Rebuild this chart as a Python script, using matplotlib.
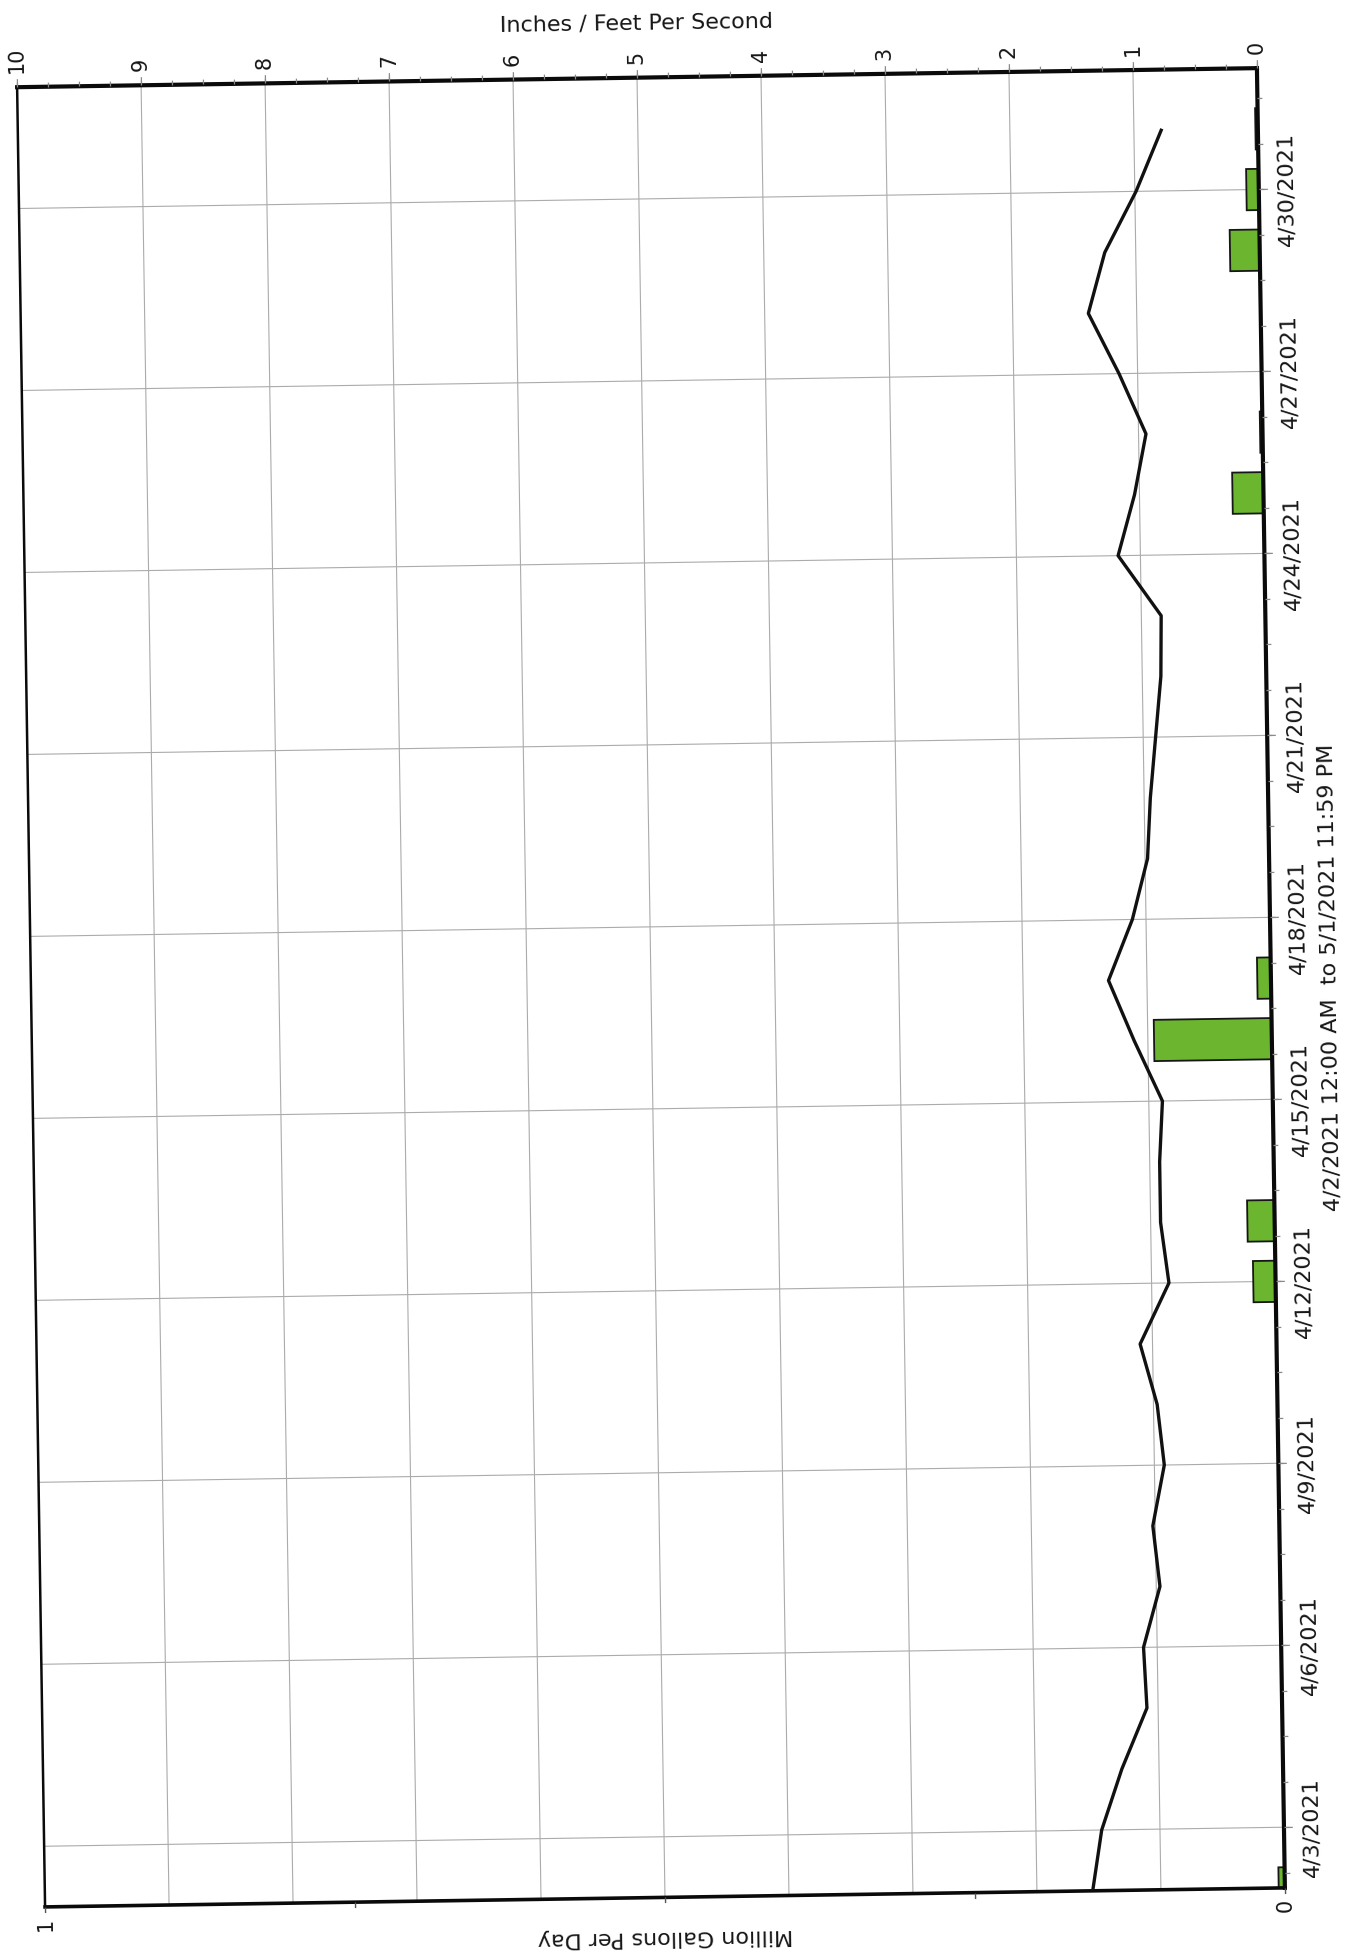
import numpy as np
import pandas as pd
import matplotlib
matplotlib.use("Agg")
import matplotlib.pyplot as plt
from matplotlib.transforms import Affine2D
import mpl_toolkits.axisartist.floating_axes as floating_axes
from mpl_toolkits.axisartist.grid_finder import FixedLocator, DictFormatter

plt.rcParams["font.family"] = ["DejaVu Sans"]

# ---------------------------------------------------------------- data
period_start = pd.Timestamp("2021-04-02 00:00")
period_days = 30
period_text = "4/2/2021 12:00 AM  to 5/1/2021 11:59 PM"

# daily average flow (MGD)
flow_dates = pd.date_range("2021-04-02", "2021-05-01", freq="D")
flow_mgd = [0.155, 0.147, 0.130, 0.109, 0.111, 0.097, 0.102, 0.092, 0.097, 0.110,
            0.086, 0.092, 0.092, 0.089, 0.111, 0.131, 0.111, 0.098, 0.095, 0.090,
            0.085, 0.084, 0.118, 0.104, 0.094, 0.115, 0.139, 0.125, 0.099, 0.078]

# daily rainfall (inches)
rain_dates = pd.to_datetime(["2021-04-02", "2021-04-12", "2021-04-13", "2021-04-16",
                             "2021-04-17", "2021-04-25", "2021-04-26", "2021-04-29",
                             "2021-04-30", "2021-05-01"])
rain_in = [0.05, 0.18, 0.22, 0.95, 0.11, 0.25, 0.02, 0.24, 0.10, 0.02]

# axis ticks
date_ticks = pd.date_range("2021-04-03", "2021-04-30", freq="3D")
date_minor = pd.date_range("2021-04-02 06:00", "2021-05-01 12:00", freq="18h")
in_ticks = list(range(0, 11))
in_minor = np.arange(0, 10.01, 0.25)
mgd_ticks = [0, 0.25, 0.5, 0.75, 1.0]
mgd_labels = {0: "0", 1: "1"}

in_label = "Inches / Feet Per Second"
mgd_label = "Million Gallons Per Day"


def day_offset(t):
    return np.asarray((pd.DatetimeIndex(t) - period_start) / pd.Timedelta(days=1), float)


# ---------------------------------------------------------------- geometry
PX_PER_DAY = 1820 / period_days
PX_PER_INCH = 124.0
TILT = 0.88                       # page sits slightly skewed
RECT = [0.00325, 0.0172, 0.9551, 0.9574]

tr = Affine2D().scale(PX_PER_DAY, PX_PER_INCH).rotate_deg(90 + TILT)
tr_mgd = Affine2D().scale(1, 10) + tr

GRID_C = "#ababab"
TICK_C = "#8a8a8a"
TEXT_C = "#161616"

fig = plt.figure(figsize=(13.54, 19.59), dpi=100)
fig.patch.set_facecolor("white")


def floating(trans, ext, loc1, fmt1, loc2, fmt2):
    gh = floating_axes.GridHelperCurveLinear(
        trans, extremes=ext,
        grid_locator1=FixedLocator(list(loc1)), tick_formatter1=DictFormatter(fmt1),
        grid_locator2=FixedLocator(list(loc2)), tick_formatter2=DictFormatter(fmt2))
    return fig.add_axes(RECT, axes_class=floating_axes.FloatingAxes, grid_helper=gh)


day_major = day_offset(date_ticks)
date_fmt = {d: f"{t.month}/{t.day}/{t.year}" for d, t in zip(day_major, date_ticks)}

# main frame: dates + inches, with grid
ax = floating(tr, (0, period_days, 0, 10), day_major, date_fmt,
              in_ticks, {i: str(i) for i in in_ticks})
ax.grid(True)
ax.gridlines.set_color(GRID_C)
ax.gridlines.set_linewidth(0.8)
ax.gridlines.set_zorder(0.95)

for name, lw in [("bottom", 3.0), ("right", 3.0), ("left", 2.6), ("top", 1.8)]:
    a = ax.axis[name]
    a.line.set_linewidth(lw)
    a.line.set_color("#0a0a0a")
    a.major_ticks.set_tick_out(True)
    a.major_ticks.set_ticksize(6)
    a.major_ticks.set_color(TICK_C)
    a.major_ticks.set_markeredgewidth(0.9)

date_axis = ax.axis["bottom"]
date_axis.major_ticklabels.set_fontsize(16)
date_axis.major_ticklabels.set_color(TEXT_C)
date_axis.major_ticklabels.set_pad(7)
date_axis.label.set_text(period_text)
date_axis.label.set_fontsize(16)
date_axis.label.set_color(TEXT_C)
date_axis.label.set_pad(10)

in_axis = ax.axis["right"]
in_axis.toggle(ticklabels=True, label=True)
in_axis.major_ticklabels.set_fontsize(15)
in_axis.major_ticklabels.set_color(TEXT_C)
in_axis.major_ticklabels.set_pad(4)
in_axis.label.set_text(in_label)
in_axis.label.set_fontsize(16)
in_axis.label.set_color(TEXT_C)
in_axis.label.set_rotation(180)
in_axis.label.set_va("bottom")
in_axis.label.set_pad(3)

ax.axis["left"].toggle(all=False)
ax.axis["top"].toggle(all=False)

# flow scale along the lower frame edge
ax_mgd = floating(tr_mgd, (0, period_days, 0, 1), day_major, {}, mgd_ticks, mgd_labels)
ax_mgd.patch.set_visible(False)
for name in ["bottom", "right", "top"]:
    ax_mgd.axis[name].set_visible(False)
mgd_axis = ax_mgd.axis["left"]
mgd_axis.line.set_visible(False)
mgd_axis.major_ticks.set_tick_out(True)
mgd_axis.major_ticks.set_ticksize(4)
mgd_axis.major_ticks.set_color("#555555")
mgd_axis.major_ticks.set_markeredgewidth(1.0)
mgd_axis.major_ticklabels.set_fontsize(15)
mgd_axis.major_ticklabels.set_color(TEXT_C)
mgd_axis.major_ticklabels.set_pad(4)
mgd_axis.label.set_text(mgd_label)
mgd_axis.label.set_fontsize(16)
mgd_axis.label.set_color(TEXT_C)
mgd_axis.label.set_pad(4)

# minor tick marks
ax_minor = floating(tr, (0, period_days, 0, 10), day_offset(date_minor), {}, in_minor, {})
ax_minor.patch.set_visible(False)
for name in ["left", "top"]:
    ax_minor.axis[name].set_visible(False)
for name in ["bottom", "right"]:
    a = ax_minor.axis[name]
    a.line.set_visible(False)
    a.toggle(ticklabels=False, label=False)
    a.major_ticks.set_tick_out(True)
    a.major_ticks.set_ticksize(3.5)
    a.major_ticks.set_color(TICK_C)
    a.major_ticks.set_markeredgewidth(0.9)

# series
aux = ax.get_aux_axes(tr)
aux.patch = ax.patch
ax.patch.zorder = 0.9
aux.bar(day_offset(rain_dates), rain_in, width=0.68, color="#6cb62f",
        edgecolor="#161616", linewidth=1.3, zorder=1.5)

aux_mgd = ax.get_aux_axes(tr_mgd)
aux_mgd.patch = ax.patch
aux_mgd.plot(day_offset(flow_dates), flow_mgd, color="#111111", lw=2.4, zorder=3)

fig.savefig("out.png", dpi=100, facecolor="white")
